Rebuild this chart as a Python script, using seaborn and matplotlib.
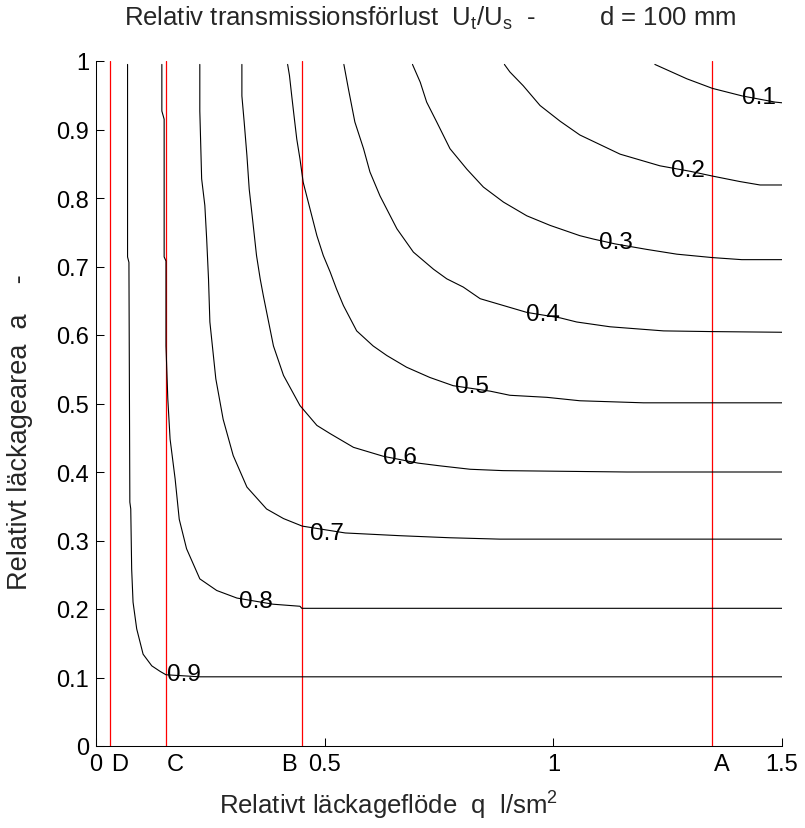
import matplotlib
matplotlib.use("Agg")
import matplotlib.pyplot as plt
import numpy as np
import pandas as pd
import seaborn as sns

# ---- contour lines (q = leakage flow, a = leakage area)
q_01 = [1.222, 1.292, 1.348, 1.413, 1.485, 1.5]
a_01 = [0.995, 0.974, 0.960, 0.949, 0.940, 0.939]

q_02 = [0.893, 0.905, 0.934, 0.971, 1.015, 1.058, 1.146, 1.233, 1.299, 1.348, 1.408, 1.452, 1.5]
a_02 = [0.995, 0.984, 0.964, 0.935, 0.912, 0.892, 0.864, 0.847, 0.839, 0.832, 0.824, 0.819, 0.819]

q_03 = [0.692, 0.709, 0.723, 0.745, 0.774, 0.811, 0.847, 0.891, 0.942, 0.993, 1.058, 1.088, 1.135,
        1.204, 1.270, 1.348, 1.412, 1.5]
a_03 = [0.995, 0.969, 0.940, 0.911, 0.872, 0.842, 0.816, 0.794, 0.774, 0.760, 0.745, 0.740, 0.733,
        0.725, 0.718, 0.713, 0.710, 0.710]

q_04 = [0.542, 0.552, 0.566, 0.585, 0.599, 0.621, 0.658, 0.694, 0.738, 0.767, 0.803, 0.840, 0.891,
        0.942, 1.015, 1.051, 1.124, 1.241, 1.343, 1.5]
a_04 = [0.995, 0.959, 0.911, 0.872, 0.838, 0.803, 0.755, 0.721, 0.696, 0.682, 0.670, 0.653, 0.643,
        0.633, 0.625, 0.619, 0.612, 0.606, 0.605, 0.604]

q_05 = [0.419, 0.423, 0.428, 0.433, 0.439, 0.446, 0.453, 0.468, 0.483, 0.497, 0.512, 0.526, 0.541,
        0.570, 0.606, 0.636, 0.679, 0.730, 0.781, 0.862, 0.905, 0.986, 1.058, 1.197, 1.5]
a_05 = [0.995, 0.979, 0.949, 0.920, 0.886, 0.857, 0.823, 0.784, 0.745, 0.716, 0.692, 0.667, 0.643,
        0.606, 0.584, 0.570, 0.553, 0.538, 0.526, 0.518, 0.512, 0.509, 0.504, 0.501, 0.501]

q_06 = [0.319, 0.319, 0.324, 0.330, 0.335, 0.343, 0.351, 0.359, 0.366, 0.388, 0.410, 0.446, 0.483,
        0.512, 0.563, 0.628, 0.704, 0.752, 0.818, 0.890, 1.161, 1.5]
a_06 = [0.995, 0.949, 0.911, 0.862, 0.813, 0.765, 0.716, 0.682, 0.657, 0.584, 0.541, 0.497, 0.468,
        0.456, 0.436, 0.423, 0.413, 0.409, 0.404, 0.402, 0.400, 0.400]

q_07 = [0.227, 0.227, 0.231, 0.238, 0.242, 0.246, 0.249, 0.262, 0.278, 0.300, 0.330, 0.373, 0.410,
        0.451, 0.545, 0.665, 0.774, 0.883, 1.5]
a_07 = [0.995, 0.927, 0.828, 0.789, 0.740, 0.682, 0.619, 0.536, 0.477, 0.424, 0.378, 0.346, 0.332,
        0.321, 0.311, 0.307, 0.304, 0.302, 0.302]

q_08 = [0.144, 0.144, 0.149, 0.149, 0.153, 0.153, 0.157, 0.162, 0.173, 0.182, 0.198, 0.227, 0.264,
        0.308, 0.387, 0.446, 0.450, 1.5]
a_08 = [0.995, 0.927, 0.915, 0.714, 0.708, 0.584, 0.507, 0.448, 0.390, 0.331, 0.288, 0.244, 0.227,
        0.216, 0.207, 0.204, 0.201, 0.201]

q_09 = [0.069, 0.069, 0.072, 0.074, 0.076, 0.078, 0.081, 0.089, 0.103, 0.122, 0.140, 0.153, 0.227, 1.5]
a_09 = [0.995, 0.714, 0.706, 0.356, 0.346, 0.258, 0.210, 0.171, 0.134, 0.117, 0.109, 0.104, 0.101, 0.101]

levels = [0.1, 0.2, 0.3, 0.4, 0.5, 0.6, 0.7, 0.8, 0.9]
level_labels = ["0.1", "0.2", "0.3", "0.4", "0.5", "0.6", "0.7", "0.8", "0.9"]
label_q = [1.449, 1.295, 1.136, 0.977, 0.823, 0.665, 0.505, 0.349, 0.192]
label_a = [0.9387, 0.8326, 0.727, 0.6223, 0.5172, 0.4127, 0.302, 0.2023, 0.0964]

# reference cases (red vertical lines) and their letters
case_names = ["D", "C", "B", "A"]
case_q = [0.03, 0.153, 0.45, 1.347]
case_label_q = [0.051, 0.173, 0.422, 1.368]

x_ticks = [0, 0.5, 1, 1.5]
x_tick_labels = ["0", "0.5", "1", "1.5"]
y_ticks = [0, 0.1, 0.2, 0.3, 0.4, 0.5, 0.6, 0.7, 0.8, 0.9, 1.0]
y_tick_labels = ["0", "0.1", "0.2", "0.3", "0.4", "0.5", "0.6", "0.7", "0.8", "0.9", "1"]

# ---- build long table
qs = [q_01, q_02, q_03, q_04, q_05, q_06, q_07, q_08, q_09]
as_ = [a_01, a_02, a_03, a_04, a_05, a_06, a_07, a_08, a_09]
frames = []
for lev, q, a in zip(levels, qs, as_):
    frames.append(pd.DataFrame({"q": q, "a": a, "level": lev, "pt": np.arange(len(q))}))
df = pd.concat(frames, ignore_index=True)

sns.set_theme(style="white")
plt.rcParams["font.family"] = ["Liberation Sans", "DejaVu Sans"]
plt.rcParams["mathtext.fontset"] = "custom"
plt.rcParams["mathtext.rm"] = "Liberation Sans"
plt.rcParams["mathtext.it"] = "Liberation Sans"

fig = plt.figure(figsize=(8.05, 8.29), dpi=100)
ax = fig.add_axes([96 / 805, 1 - 747 / 829, 686 / 805, 685 / 829])

for cq in case_q:
    ax.axvline(cq, 0, 1, color="#ff0000", lw=0.9, zorder=1)

sns.lineplot(data=df, x="q", y="a", units="level", estimator=None, sort=False,
             color="black", lw=0.8, ax=ax, legend=False, zorder=2)

for txt, lq, la in zip(level_labels, label_q, label_a):
    ax.text(lq, la, txt, ha="center", va="baseline", fontsize=17.5, color="black", zorder=3)

for name, lq in zip(case_names, case_label_q):
    ax.text(lq, -0.035, name, ha="center", va="baseline", fontsize=17, color="black",
            clip_on=False)

ax.set_xlim(0, 1.5)
ax.set_ylim(0, 1)
ax.set_xticks(x_ticks)
ax.set_xticklabels(x_tick_labels)
ax.set_yticks(y_ticks)
ax.set_yticklabels(y_tick_labels)
ax.tick_params(direction="in", length=5.5, width=0.75, colors="black", labelsize=17, pad=5,
               bottom=True, left=True, top=False, right=False)

sns.despine(ax=ax)
for s in ["left", "bottom"]:
    ax.spines[s].set_color("black")
    ax.spines[s].set_linewidth(0.75)

ax.set_xlabel(r"Relativt läckageflöde  q  l/sm$^{\mathregular{2}}$", fontsize=18.5)
ax.xaxis.label.set_va("baseline")
ax.xaxis.set_label_coords((389 - 96) / 686, (747 - 815) / 685)

ax.set_ylabel("Relativt läckagearea  a    -", fontsize=19.5)
ax.yaxis.label.set_ha("left")
ax.yaxis.set_label_coords((33 - 96) / 686, (747 - 590) / 685)

fig.text(430 / 805, 1 - 26 / 829,
         r"Relativ transmissionsförlust  $\mathregular{U_t/U_s}$  -         d = 100 mm",
         ha="center", va="baseline", fontsize=18.5)

fig.savefig("out.png", dpi=100, facecolor="white")
